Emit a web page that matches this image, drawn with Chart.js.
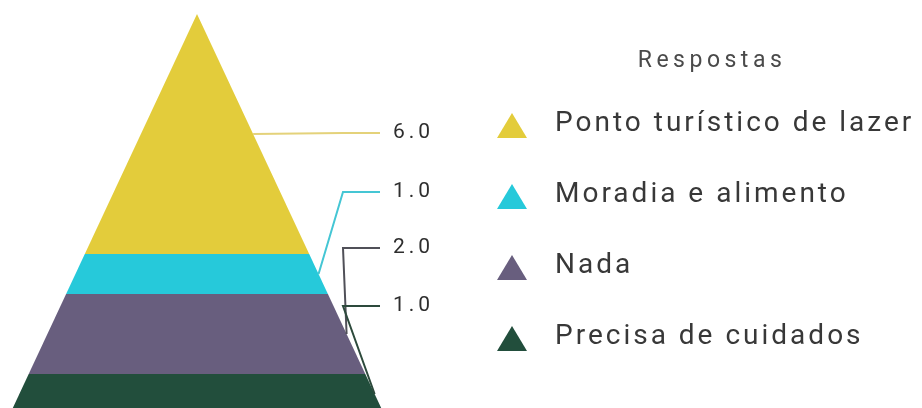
<!DOCTYPE html>
<html>
<head>
<meta charset="utf-8">
<script src="https://cdn.jsdelivr.net/npm/chart.js@4.4.1/dist/chart.umd.min.js"></script>
<style>
  html, body { margin: 0; padding: 0; background: #fff; }
  #wrap { width: 922px; height: 408px; }
</style>
</head>
<body>
<div id="wrap"><canvas id="chart"></canvas></div>
<script>
const categories = ['Ponto turístico de lazer', 'Moradia e alimento', 'Nada', 'Precisa de cuidados'];
const values = [6, 1, 2, 1];
const valueLabels = ['6.0', '1.0', '2.0', '1.0'];
const colors = ['#e3cc3b', '#26c9da', '#685e7e', '#224e3c'];
const lineColors = ['#e4d27a', '#45c6d4', '#505058', '#2d4a3c'];
const legendTitle = 'Respostas';

// half width of the pyramid per unit of height
const slope = 0.4675;

// each layer is a trapezoid, the top one a triangle
let acc = 0;
const layers = values.map((v) => {
  const top = acc;
  const bottom = acc + v;
  acc = bottom;
  return [
    { x: -top * slope, y: top },
    { x: top * slope, y: top },
    { x: bottom * slope, y: bottom },
    { x: -bottom * slope, y: bottom }
  ];
});

const pyramidLabels = {
  id: 'pyramidLabels',
  afterDatasetsDraw(chart, args, opts) {
    const { ctx } = chart;
    const xs = chart.scales.x;
    const ys = chart.scales.y;
    ctx.save();

    // leader lines + value labels
    let top = 0;
    values.forEach((v, i) => {
      const mid = top + v / 2;
      top += v;
      const ex = xs.getPixelForValue(mid * slope);
      const ey = ys.getPixelForValue(mid);
      const ly = ys.getPixelForValue(opts.slots[i]);
      const bx = xs.getPixelForValue(opts.elbow);
      ctx.beginPath();
      ctx.moveTo(ex, ey);
      ctx.lineTo(bx, ly);
      ctx.lineTo(xs.getPixelForValue(opts.lineEnd), ly);
      ctx.strokeStyle = lineColors[i];
      ctx.lineWidth = 2;
      ctx.stroke();

      ctx.font = '21px Roboto';
      ctx.letterSpacing = '4px';
      ctx.fillStyle = '#2e2e2e';
      ctx.textAlign = 'left';
      ctx.textBaseline = 'middle';
      ctx.fillText(valueLabels[i], xs.getPixelForValue(opts.textAt), ly);
    });

    // legend
    const lg = opts.legend;
    ctx.font = '23px Roboto';
    ctx.letterSpacing = '4.5px';
    ctx.fillStyle = '#4a4a4a';
    ctx.textAlign = 'center';
    ctx.fillText(legendTitle, lg.titleX, lg.titleY);

    ctx.font = '28px Roboto';
    ctx.letterSpacing = '3px';
    ctx.textAlign = 'left';
    categories.forEach((name, i) => {
      const cy = lg.top + i * lg.step;
      ctx.beginPath();
      ctx.moveTo(lg.markX, cy - 11);
      ctx.lineTo(lg.markX + 15, cy + 14);
      ctx.lineTo(lg.markX - 15, cy + 14);
      ctx.closePath();
      ctx.fillStyle = colors[i];
      ctx.fill();
      ctx.fillStyle = '#383838';
      ctx.fillText(name, lg.textX, cy);
    });
    ctx.restore();
  }
};

new Chart(document.getElementById('chart'), {
  type: 'scatter',
  data: {
    datasets: layers.map((pts, i) => ({
      label: categories[i],
      data: pts,
      showLine: true,
      fill: 'shape',
      backgroundColor: colors[i],
      borderColor: 'transparent',
      borderWidth: 0,
      pointRadius: 0,
      pointHoverRadius: 0
    }))
  },
  options: {
    responsive: true,
    maintainAspectRatio: false,
    animation: false,
    layout: { padding: 0 },
    scales: {
      x: { type: 'linear', display: false, min: -4.925, max: 18.125 },
      y: { type: 'linear', display: false, reverse: true, min: -0.35, max: 9.85 }
    },
    plugins: {
      legend: { display: false },
      tooltip: { enabled: false },
      pyramidLabels: {
        slots: [2.975, 4.45, 5.85, 7.3],
        elbow: 3.65,
        lineEnd: 4.575,
        textAt: 4.9,
        legend: { titleX: 712, titleY: 61, markX: 512, textX: 555, top: 124, step: 71 }
      }
    }
  },
  plugins: [pyramidLabels]
});
</script>
</body>
</html>
